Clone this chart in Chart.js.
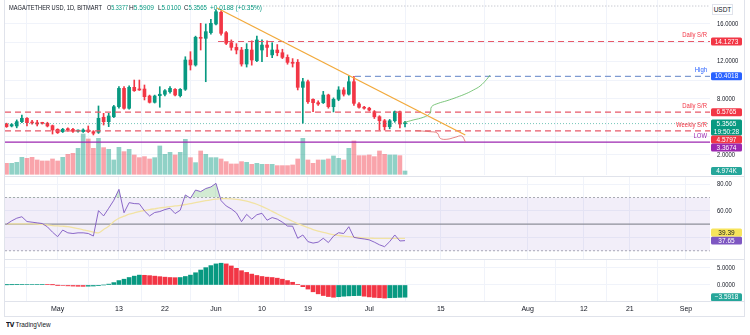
<!DOCTYPE html>
<html><head><meta charset="utf-8">
<script src="https://cdn.jsdelivr.net/npm/chart.js@4.4.1/dist/chart.umd.min.js"></script>
<style>
html,body{margin:0;padding:0;background:#fff;}
#wrap{position:relative;width:750px;height:335px;overflow:hidden;font-family:"Liberation Sans",Arial,sans-serif;color:#131722;}
canvas{position:absolute;left:0;}
.sep{position:absolute;left:5px;width:739px;height:1px;background:#e0e3eb;}
#frame{position:absolute;left:4px;top:-1px;width:741px;height:318px;border:1px solid #e0e3eb;box-sizing:border-box;}
.t{position:absolute;font-size:7.5px;line-height:8px;white-space:nowrap;z-index:5;transform-origin:0 0;}
.g{color:#089981;}
.yl{position:absolute;font-size:6.5px;line-height:8px;white-space:nowrap;z-index:4;color:#131722;transform:scaleX(0.9);transform-origin:0 0;}
#usdt{position:absolute;left:712px;top:4px;width:21px;height:11px;border:1px solid #e0e3eb;box-sizing:border-box;font-size:6.5px;line-height:9px;text-align:center;color:#131722;background:#fff;z-index:5;}
#logo{position:absolute;left:6px;top:321px;font-size:7.5px;line-height:8px;color:#131722;z-index:5;transform:scaleX(0.85);transform-origin:0 0;}
#logo b{font-family:"DejaVu Sans",Arial,sans-serif;font-size:7px;letter-spacing:-0.5px;margin-right:2px;}
</style></head>
<body>
<div id="wrap">
  <div id="frame"></div>
  <canvas id="main" width="750" height="176" style="top:0"></canvas>
  <canvas id="rsi" width="750" height="82" style="top:177px"></canvas>
  <canvas id="macd" width="750" height="57" style="top:260px"></canvas>
  <div class="sep" style="top:176px"></div>
  <div class="sep" style="top:259px"></div>
  <div class="sep" style="top:301px"></div>
  <div class="t" data-w="93" style="left:9px;top:4px">MAGA/TETHER USD, 1D, BITMART</div>
  <div class="t" data-w="21" style="left:107px;top:4px">O<span class="g">5.3377</span></div>
  <div class="t" data-w="25" style="left:129px;top:4px">H<span class="g">5.5909</span></div>
  <div class="t" data-w="23" style="left:158px;top:4px">L<span class="g">5.0100</span></div>
  <div class="t" data-w="23" style="left:184px;top:4px">C<span class="g">5.3565</span></div>
  <div class="t g" data-w="52" style="left:210px;top:4px">+0.0188 (+0.35%)</div>
  <div id="usdt">USDT</div>
  <div id="logo"><b>TV</b>TradingView</div>
</div>
<script>
document.querySelectorAll('.t[data-w]').forEach(el=>{
  const w=el.getBoundingClientRect().width;
  el.style.transform='scaleX('+(parseFloat(el.dataset.w)/w)+')';
});
const FONT='"Liberation Sans",Arial,sans-serif';
Chart.defaults.font.family=FONT;
Chart.defaults.font.size=6.5;
Chart.defaults.color='#131722';
Chart.defaults.animation=false;
Chart.defaults.plugins.legend.display=false;
Chart.defaults.plugins.tooltip.enabled=false;

// ---------- DATA ----------
// days counted from May 1 (0 = May 1); first candle = Apr 21
const FIRST_DAY=-10;
const X_MIN=-10.3, X_MAX=127.7;
const xTickDays=[0,12,21,31,40,49,61,75,92,103,112,123];
const xTickLabels=['May','13','22','Jun','10','19','Jul','15','Aug','12','21','Sep'];
const priceTicks=[2,4,6,8,10,12,14,16];
const rsiTicks=[40,60,80];
const macdTicks=[-5,0,5];

const candleOpen=[5.31,5.10,5.10,5.56,5.92,5.50,5.45,5.40,5.38,5.13,4.74,4.49,4.74,4.74,4.55,4.50,4.67,4.49,4.42,6.03,
5.56,6.09,7.16,9.12,6.99,9.23,9.02,9.05,8.30,7.63,8.34,8.49,8.76,9.02,8.34,9.02,12.15,11.62,14.58,14.47,
15.07,16.00,17.25,15.07,14.00,13.50,13.22,11.72,13.22,12.08,13.22,13.75,12.70,13.22,12.93,12.43,11.90,11.90,9.23,9.83,
7.95,7.59,7.59,8.41,7.16,7.95,8.95,8.50,9.83,7.45,7.10,7.00,6.63,6.09,5.66,5.02,5.66,6.63,5.3377];
const candleHigh=[5.40,5.35,5.75,6.27,6.00,5.70,5.70,5.50,5.50,5.20,4.80,4.85,4.90,4.85,4.70,4.80,5.10,4.60,7.24,6.45,
6.45,7.30,9.30,9.30,9.40,10.01,10.01,9.48,8.40,8.40,9.30,9.00,9.30,9.10,9.10,12.50,13.04,14.70,16.07,16.00,
16.50,17.50,17.40,15.20,14.30,13.90,13.50,13.90,14.20,14.70,14.30,14.20,14.00,13.80,13.30,12.70,12.30,12.20,10.20,10.00,
8.00,7.80,8.80,8.50,8.10,9.30,9.20,10.44,10.40,7.60,7.20,7.10,6.75,6.20,5.80,5.80,6.70,6.70,5.5909];
const candleLow=[4.95,5.00,4.90,5.45,5.10,5.30,5.10,5.30,5.00,4.24,4.30,4.40,4.55,4.40,4.45,4.40,4.40,4.14,4.30,5.20,
5.03,6.00,7.00,6.90,6.90,8.80,8.90,7.88,7.55,7.55,7.10,8.30,8.60,8.30,8.20,8.90,11.08,11.50,13.22,9.83,
14.90,15.90,14.80,13.80,13.20,12.80,11.50,11.40,11.60,11.97,11.97,12.50,12.40,12.60,12.30,11.70,11.40,8.95,5.39,7.50,
6.63,7.30,7.50,7.00,6.60,7.80,8.30,8.40,7.30,7.00,6.90,6.70,5.90,4.67,4.67,4.80,5.50,4.90,5.0100];
const candleClose=[5.03,5.25,5.56,5.92,5.45,5.42,5.31,5.38,5.10,4.67,4.38,4.74,4.70,4.52,4.60,4.67,4.49,4.32,5.92,5.56,
6.17,7.16,9.12,6.99,9.23,8.87,8.95,8.23,7.63,8.30,8.49,8.87,9.12,8.41,9.02,12.15,11.62,14.58,14.47,15.18,
16.07,17.31,15.00,13.94,13.50,13.22,11.72,13.29,12.15,14.29,13.75,13.50,13.22,12.93,12.43,11.90,11.80,9.23,9.83,7.69,
7.59,7.45,8.41,7.16,7.95,8.95,8.50,9.83,7.52,7.10,7.00,6.80,6.09,5.66,5.02,5.66,6.63,5.31,5.3565];
// volume in thousands
const volumeK=[16.5,16.5,18,25.5,24,25.5,21.5,20,20,23,20,25.5,30,31.5,39,60.5,53,39,54,40,
37.5,21.5,40.5,34,37.5,29,25,26.5,23,25,42.5,30,33,29,33,52.5,25,17.5,35,30,
25,25,23,19,15.5,15.5,19,18,15,16.5,15,15,15,13,13,13,14,23,54,21.5,
16.5,21.5,21.5,23,27.5,24,21.5,39,50,28,28,29,26.5,35,30,29,29,28,4.974];
const rsiValues=[50,52.5,54.5,55.6,52,51.5,51,50.5,48,44,40.6,45.6,43.5,43,43.5,43.5,43,41.1,60.2,56.2,
62,68,76.2,58.6,66.2,65.5,65.3,60,56.2,58.8,59.5,61,62,58,60.5,72,69.5,75.7,74.5,76.8,
78,80.7,67.7,63.7,61.5,58.5,51.9,57.4,53.8,57.1,58.2,53,55,53.8,51.5,48.6,48.5,39.4,41.9,36.9,
35.8,36.5,39.4,36.2,41,43.6,43,48.1,40.1,39.4,38.9,38.2,36.5,34.5,33.1,36.9,41.9,37.4,37.65];
const rsiMA=[50.3,50.3,50.3,50.3,50.3,50.3,50.1,49.8,49.4,49,48.7,48.5,48.2,47.5,46.7,45.8,44.9,44.1,43.5,46,
48.5,52,54.5,56,57.5,58.5,59.5,60.3,61,61.6,62.2,62.7,63.2,63.7,64.2,64.8,65.5,66.2,67,67.7,
68.3,68.8,69.2,69.3,69.1,68.7,68.1,67.3,66.3,65,63.4,61.6,59.7,57.7,55.8,54,52.2,50.5,48.9,47.4,
46,44.8,43.8,42.9,42.1,41.5,41,40.6,40.3,40,39.7,39.5,39.4,39.3,39.3,39.3,39.35,39.4,39.39];
const macdHist=[0.05,0.08,0.1,0.12,0.14,0.15,0.16,0.17,0.12,0.05,-0.05,-0.15,-0.25,-0.32,-0.38,-0.4,-0.35,-0.3,-0.2,0.0,
0.25,0.7,1.3,1.7,2.2,2.6,2.9,2.85,2.75,2.6,2.45,2.3,2.2,2.15,2.2,2.5,2.9,3.6,4.4,5.1,
5.7,6.2,6.4,6.2,5.6,4.9,4.2,3.7,3.2,2.8,2.5,2.3,2.2,2.0,1.7,1.3,0.8,0.2,-0.5,-1.2,
-2.0,-2.6,-3.1,-3.4,-3.6,-3.45,-3.3,-3.2,-3.15,-3.1,-3.3,-3.5,-3.65,-3.75,-3.85,-3.75,-3.7,-3.63,-3.5918];

// levels
const dailySRHigh=14.1273, highLevel=10.4018, dailySRLow=6.5765, weeklySR=4.5797, lowLevel=3.3674, lastPrice=5.3565, topLevel=17.92;
const levelStartDays={dailySRHigh:31.4, high:58.2, top:33.8};
// trend line (day, price)
const trendDays=[31.2,79.8], trendPrices=[17.71,4.14];
// projected paths (day, price)
const bullDays=[67.7,69.6,71.6,72.9,73.2,74.5,76.2,78.1,80.1,81.4,82.7,84.0,84.65];
const bullPrices=[5.45,5.74,6.03,6.46,7.16,7.52,7.80,8.16,8.59,8.95,9.37,10.09,10.55];
const bearDays=[70.0,72.9,74.3,74.9,76.2,77.8,79.1,79.8];
const bearPrices=[4.60,4.49,4.35,3.78,3.68,3.89,4.03,3.42];
const rsiUpper=70, rsiMid=50, rsiLower=30;

// ---------- BUILD ----------
const UP='#089981', DN='#f23645';
const N=candleOpen.length;
const dayOf=i=>FIRST_DAY+i;
const up=candleOpen.map((o,i)=>candleClose[i]>=o);
const candleColors=up.map(u=>u?UP:DN);
const volColors=up.map(u=>u?'rgba(8,153,129,0.45)':'rgba(242,54,69,0.45)');
const macdColors=macdHist.map((v,i)=> (i===0||v>=macdHist[i-1])?'#089981':'#f23645');

const hline=(v,from,color,dash,w,order)=>({type:'line',data:[{x:from,y:v},{x:X_MAX,y:v}],borderColor:color,borderDash:dash,borderWidth:w,pointRadius:0,fill:false,order:order||1,yAxisID:'y'});
const pathDS=(ds,ps,color,w,tension)=>({type:'line',data:ds.map((d,k)=>({x:d,y:ps[k]})),borderColor:color,borderWidth:w,pointRadius:0,fill:false,tension:tension||0,order:1,yAxisID:'y'});

const noPad=s=>{s.paddingTop=0;s.paddingBottom=0;s.paddingLeft=0;s.paddingRight=0;};
const xGrid={type:'linear',min:X_MIN,max:X_MAX,offset:false,
  afterBuildTicks:s=>{s.ticks=xTickDays.map(v=>({value:v}));},
  ticks:{display:false},grid:{color:'#f0f3fa',drawTicks:false},border:{display:false},
  afterFit:s=>{s.height=0;noPad(s);}};

function yAxis(min,max,ticks){
  return {position:'right',min,max,
    afterBuildTicks:s=>{s.ticks=ticks.map(v=>({value:v}));},
    ticks:{display:false},
    grid:{color:'#f0f3fa',drawTicks:false},border:{display:false},
    afterFit:s=>{s.width=40;noPad(s);}};
}

// y-axis tick labels as text, placed through the chart's own y scale
function axisLabels(chart,canvasTop,values,fmt,hide){
  const sc=chart.scales.y, wrap=document.getElementById('wrap');
  values.forEach(v=>{
    if(hide&&hide.includes(v))return;
    const y=sc.getPixelForValue(v);
    if(y<0||y>chart.height)return;
    const d=document.createElement('div');
    d.className='yl';d.textContent=fmt(v);
    d.style.left=(chart.chartArea.right+7)+'px';
    d.style.top=(canvasTop+y-4)+'px';
    wrap.appendChild(d);
  });
}

function overlay(cfg){
  return {id:'ov_'+cfg.name,afterDraw(chart){
    const ctx=chart.ctx, ca=chart.chartArea;
    ctx.save();
    (cfg.labels||[]).forEach(l=>{
      const y=chart.scales.y.getPixelForValue(l.value)-6;
      ctx.save();
      ctx.translate(ca.right-3,y);ctx.scale(0.85,1);
      ctx.font='7px '+FONT;ctx.fillStyle=l.color;ctx.textAlign='right';ctx.textBaseline='middle';
      ctx.fillText(l.text,0,0);
      ctx.restore();
    });
    (cfg.tagGroups||[]).forEach(g=>{
      const sc=chart.scales[g.axis];
      const items=g.tags.map(t=>({...t,h:t.lines.length*8,top:sc.getPixelForValue(t.value)-4}));
      if(g.dir==='down'){items.sort((a,b)=>a.top-b.top);let prev=-1e9;items.forEach(it=>{if(it.top<prev)it.top=prev;prev=it.top+it.h;});}
      else{items.sort((a,b)=>b.top-a.top);let prev=1e9;items.forEach(it=>{if(it.top+it.h>prev)it.top=prev-it.h;prev=it.top;});}
      items.forEach(it=>{
        ctx.fillStyle=it.bg;
        ctx.beginPath();
        if(ctx.roundRect){ctx.roundRect(ca.right+1,it.top,31,it.h,1.5);}else{ctx.rect(ca.right+1,it.top,31,it.h);}
        ctx.fill();
        ctx.fillStyle=it.fg;ctx.font='6.5px '+FONT;ctx.textAlign='center';ctx.textBaseline='middle';
        it.lines.forEach((s,k)=>ctx.fillText(s,ca.right+16.5,it.top+4.3+k*8));
      });
    });
    ctx.restore();
  }};
}

const baseOpts={responsive:false,devicePixelRatio:1,layout:{autoPadding:false,padding:{left:5,right:0,top:0,bottom:0}}};

// ---------- MAIN PANE ----------
const mainChart=new Chart(document.getElementById('main'),{
  type:'bar',
  data:{datasets:[
    {type:'bar',data:volumeK.map((v,i)=>({x:dayOf(i),y:v})),yAxisID:'yv',backgroundColor:volColors,barThickness:4,grouped:false,order:10},
    {type:'bar',data:candleOpen.map((o,i)=>({x:dayOf(i),y:[candleLow[i],candleHigh[i]]})),yAxisID:'y',backgroundColor:candleColors,barThickness:1,grouped:false,order:6},
    {type:'bar',data:candleOpen.map((o,i)=>({x:dayOf(i),y:[o,candleClose[i]]})),yAxisID:'y',backgroundColor:candleColors,barThickness:3,minBarLength:1,grouped:false,order:5},
    hline(topLevel,levelStartDays.top,'#b2b5be',[1,2],1,2),
    hline(lastPrice,X_MIN,'rgba(8,153,129,0.55)',[1,2],1,2),
    hline(dailySRHigh,levelStartDays.dailySRHigh,'#e8596a',[6,4],1.2,2),
    hline(highLevel,levelStartDays.high,'#7f9bd1',[6,4],1.2,2),
    hline(dailySRLow,X_MIN,'#e8596a',[6,4],1.2,2),
    hline(weeklySR,X_MIN,'#e8596a',[6,4],1.2,2),
    hline(lowLevel,X_MIN,'#9c27b0',[],1.3,2),
    pathDS(trendDays,trendPrices,'#f2a93b',1.3,0),
    pathDS(bullDays,bullPrices,'#5cb85c',0.8,0.4),
    pathDS(bearDays,bearPrices,'#e06666',0.8,0.4)
  ]},
  options:{...baseOpts,layout:{autoPadding:false,padding:{left:5,right:0,top:0,bottom:1}},
    scales:{x:xGrid,
      y:yAxis(-0.139,18.564,priceTicks),
      yv:{display:false,min:-1.05,max:261.45,afterFit:noPad}}},
  plugins:[overlay({name:'main',
    labels:[{text:'Daily S/R',value:dailySRHigh,color:'#f23645'},{text:'High',value:highLevel,color:'#2962ff'},
      {text:'Daily S/R',value:dailySRLow,color:'#f23645'},{text:'Weekly S/R',value:weeklySR,color:'#f23645'},
      {text:'LOW',value:lowLevel,color:'#9c27b0'}],
    tagGroups:[{axis:'y',dir:'down',tags:[
      {value:dailySRHigh,lines:[dailySRHigh.toFixed(4)],bg:'#f23645',fg:'#fff'},
      {value:highLevel,lines:[highLevel.toFixed(4)],bg:'#2962ff',fg:'#fff'},
      {value:dailySRLow,lines:[dailySRLow.toFixed(4)],bg:'#f23645',fg:'#fff'},
      {value:lastPrice,lines:[lastPrice.toFixed(4),'19:50:28'],bg:'#089981',fg:'#fff'},
      {value:weeklySR,lines:[weeklySR.toFixed(4)],bg:'#f23645',fg:'#fff'},
      {value:lowLevel,lines:[lowLevel.toFixed(4)],bg:'#9c27b0',fg:'#fff'}]},
      {axis:'yv',dir:'down',tags:[{value:volumeK[N-1],lines:[volumeK[N-1].toFixed(3)+'K'],bg:'#26a69a',fg:'#fff'}]}]
  })]
});
axisLabels(mainChart,0,priceTicks,v=>v.toFixed(4),[4,6,10,14]);

// ---------- RSI PANE ----------
const rsiChart=new Chart(document.getElementById('rsi'),{
  type:'line',
  data:{datasets:[
    {data:[{x:X_MIN,y:rsiUpper},{x:X_MAX,y:rsiUpper}],borderColor:'#9598a1',borderDash:[2,2],borderWidth:0.8,pointRadius:0,fill:'+1',backgroundColor:'rgba(126,87,194,0.1)',order:5},
    {data:[{x:X_MIN,y:rsiLower},{x:X_MAX,y:rsiLower}],borderColor:'#9598a1',borderDash:[2,2],borderWidth:0.8,pointRadius:0,fill:false,order:5},
    {data:[{x:X_MIN,y:rsiMid},{x:X_MAX,y:rsiMid}],borderColor:'#8e8f99',borderWidth:1.3,pointRadius:0,fill:false,order:4},
    {data:rsiMA.map((v,i)=>({x:dayOf(i),y:v})),borderColor:'#f2e3a3',borderWidth:1.3,pointRadius:0,fill:false,tension:0.3,order:3},
    {data:rsiValues.map((v,i)=>({x:dayOf(i),y:v})),borderColor:'#7e57c2',borderWidth:0.9,pointRadius:0,
      fill:{target:{value:rsiUpper},above:'rgba(76,175,80,0.25)',below:'rgba(0,0,0,0)'},order:1}
  ]},
  options:{...baseOpts,
    scales:{x:xGrid,y:yAxis(23.83,85.49,rsiTicks)}},
  plugins:[overlay({name:'rsi',
    tagGroups:[{axis:'y',dir:'up',tags:[
    {value:rsiMA[N-1],lines:[rsiMA[N-1].toFixed(2)],bg:'#f7e45c',fg:'#131722'},
    {value:rsiValues[N-1],lines:[rsiValues[N-1].toFixed(2)],bg:'#7e57c2',fg:'#fff'}]}]})]
});
axisLabels(rsiChart,177,rsiTicks,v=>v.toFixed(2),[40]);

// ---------- MACD PANE ----------
const macdChart=new Chart(document.getElementById('macd'),{
  type:'bar',
  data:{datasets:[{data:macdHist.map((v,i)=>({x:dayOf(i),y:v})),backgroundColor:macdColors,barThickness:4}]},
  options:{...baseOpts,
    scales:{
      x:{type:'linear',min:X_MIN,max:X_MAX,offset:false,
        afterBuildTicks:s=>{s.ticks=xTickDays.map(v=>({value:v}));},
        ticks:{callback:(v,i)=>xTickLabels[i],font:{size:7},color:'#131722',padding:4,maxRotation:0,autoSkip:false},
        grid:{color:'#f0f3fa',drawTicks:false},border:{display:false},afterFit:s=>{s.height=16;noPad(s);}},
      y:yAxis(-4.71,7.35,macdTicks)}},
  plugins:[overlay({name:'macd',
    tagGroups:[{axis:'y',dir:'down',tags:[
    {value:macdHist[N-1],lines:['\u2212'+Math.abs(macdHist[N-1]).toFixed(4)],bg:'#26a69a',fg:'#fff'}]}]})]
});
axisLabels(macdChart,260,macdTicks,v=>(v<0?'\u2212':'')+Math.abs(v).toFixed(4),[-5]);
</script>
</body></html>
